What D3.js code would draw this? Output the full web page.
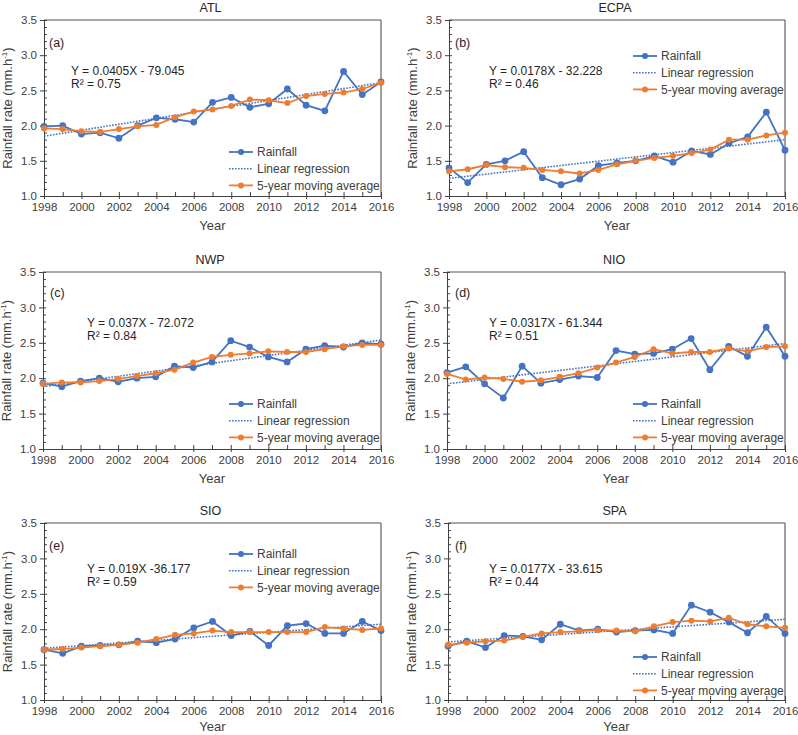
<!DOCTYPE html>
<html><head><meta charset="utf-8">
<script src="https://cdn.jsdelivr.net/npm/d3@7/dist/d3.min.js"></script>
<style>body{margin:0;background:#fff;}svg{display:block;font-family:"Liberation Sans",Arial,sans-serif;}</style>
</head><body><svg id="c" width="798" height="735"></svg>
<script>
const years = d3.range(1998, 2017);
const regions = ["ATL","ECPA","NWP","NIO","SIO","SPA"];
const panelLabels = ["(a)","(b)","(c)","(d)","(e)","(f)"];
const equations = ["Y = 0.0405X - 79.045","Y = 0.0178X - 32.228","Y = 0.037X - 72.072","Y = 0.0317X - 61.344","Y = 0.019X -36.177","Y = 0.0177X - 33.615"];
const r2 = ["R² = 0.75","R² = 0.46","R² = 0.84","R² = 0.51","R² = 0.59","R² = 0.44"];
const yTicks = [1.0,1.5,2.0,2.5,3.0,3.5];
const xTicks = [1998,2000,2002,2004,2006,2008,2010,2012,2014,2016];
const legendNames = ["Rainfall","Linear regression","5-year moving average"];

const rainATL  = [1.99,2.00,1.88,1.90,1.82,2.00,2.11,2.09,2.05,2.33,2.40,2.26,2.31,2.52,2.29,2.21,2.77,2.44,2.62];
const maATL    = [1.96,1.95,1.92,1.91,1.95,1.99,2.01,2.12,2.20,2.23,2.28,2.37,2.36,2.32,2.42,2.45,2.47,2.52,2.61];
const rainECPA = [1.40,1.19,1.45,1.50,1.63,1.26,1.16,1.24,1.43,1.47,1.50,1.57,1.48,1.64,1.59,1.75,1.84,2.19,1.65];
const maECPA   = [1.35,1.38,1.44,1.41,1.40,1.37,1.35,1.32,1.37,1.45,1.50,1.54,1.57,1.61,1.66,1.80,1.80,1.86,1.90];
const rainNWP  = [1.93,1.88,1.96,2.00,1.95,2.00,2.02,2.17,2.15,2.23,2.53,2.44,2.30,2.23,2.41,2.46,2.44,2.50,2.48];
const maNWP    = [1.92,1.94,1.94,1.96,1.99,2.03,2.07,2.12,2.22,2.30,2.33,2.35,2.38,2.37,2.37,2.41,2.45,2.47,2.47];
const rainNIO  = [2.08,2.16,1.92,1.72,2.17,1.93,1.98,2.03,2.01,2.39,2.34,2.35,2.41,2.56,2.12,2.45,2.31,2.72,2.31];
const maNIO    = [2.06,1.98,2.01,1.99,1.95,1.97,2.02,2.07,2.15,2.22,2.30,2.41,2.35,2.37,2.37,2.42,2.38,2.44,2.45];
const rainSIO  = [1.71,1.66,1.76,1.77,1.78,1.83,1.81,1.86,2.02,2.11,1.91,1.97,1.77,2.05,2.08,1.94,1.94,2.11,1.98];
const maSIO    = [1.71,1.72,1.74,1.76,1.78,1.81,1.86,1.92,1.94,1.98,1.96,1.96,1.96,1.96,1.96,2.03,2.01,1.99,2.01];
const rainSPA  = [1.76,1.83,1.74,1.91,1.90,1.85,2.07,1.98,2.00,1.96,1.98,1.99,1.94,2.34,2.24,2.10,1.95,2.18,1.94];
const maSPA    = [1.78,1.81,1.83,1.84,1.89,1.94,1.96,1.97,1.99,1.98,1.97,2.04,2.10,2.12,2.11,2.16,2.07,2.04,2.02];
// regression line end values at 1998 and 2016
const regStart = [1.85,1.25,1.88,1.92,1.73,1.82];
const regEnd   = [2.61,1.80,2.54,2.49,2.07,2.14];

const rain = [rainATL,rainECPA,rainNWP,rainNIO,rainSIO,rainSPA];
const ma = [maATL,maECPA,maNWP,maNIO,maSIO,maSPA];

const BLUE = "#4472C4", ORANGE = "#ED7D31", AX = "#404040", TXT = "#404040";
const svg = d3.select("#c");

const L = [44,449,43,447,44,448], R = [381,785,381,785,381,785];
const T = [20,20,272,272,523,523], B = [196,196,449,449,700,700];
const legX = [229,633,229,633,229,633], legY = [152,56,404,404,554,657];
const labX = [47,453,48,453,47,453], labY = [43,43,293,293,546,546];
const eqX = [71,489,87,489,87,489], eqY = [71,71,323,323,569,569];

regions.forEach((name,i)=>{
  const g = svg.append("g");
  const x = d3.scaleLinear().domain([1998,2016]).range([L[i],R[i]]);
  const y = d3.scaleLinear().domain([1.0,3.5]).range([B[i],T[i]]);
  const cx = (L[i]+R[i])/2;
  g.append("text").attr("x",cx-2).attr("y",T[i]-8).attr("text-anchor","middle").attr("font-size",12.5).attr("fill","#262626").text(name);
  g.append("line").attr("x1",L[i]).attr("x2",R[i]).attr("y1",T[i]).attr("y2",T[i]).attr("stroke","#8c8c8c").attr("stroke-width",1.3);
  g.append("line").attr("x1",R[i]).attr("x2",R[i]).attr("y1",T[i]).attr("y2",B[i]).attr("stroke",AX).attr("stroke-width",1);
  const ya = g.append("g").attr("transform",`translate(${L[i]},0)`)
    .call(d3.axisLeft(y).tickValues(yTicks).tickFormat(d3.format(".1f")).tickSize(4).tickPadding(3));
  ya.select(".domain").attr("stroke",AX);
  ya.selectAll(".tick line").attr("stroke",AX);
  ya.selectAll("text").attr("font-size",11.5).attr("fill",TXT).attr("font-family","Liberation Sans, Arial, sans-serif");
  const ym = g.append("g").attr("transform",`translate(${L[i]},0)`)
    .call(d3.axisRight(y).ticks(25).tickSize(3).tickFormat(""));
  ym.select(".domain").remove();
  ym.selectAll(".tick line").attr("stroke",AX);
  const xa = g.append("g").attr("transform",`translate(0,${B[i]})`)
    .call(d3.axisBottom(x).tickValues(xTicks).tickFormat(d3.format("d")).tickSize(3).tickPadding(4));
  xa.select(".domain").attr("stroke",AX);
  xa.selectAll(".tick line").attr("stroke",AX);
  xa.selectAll("text").attr("font-size",11.5).attr("fill",TXT).attr("font-family","Liberation Sans, Arial, sans-serif");
  const xm = g.append("g").attr("transform",`translate(0,${B[i]})`)
    .call(d3.axisTop(x).tickValues(years).tickSize(4).tickFormat(""));
  xm.select(".domain").remove();
  xm.selectAll(".tick line").attr("stroke",AX);
  g.append("text").attr("x",cx).attr("y",Math.min(B[i]+34,731)).attr("text-anchor","middle").attr("font-size",13).attr("fill",TXT).text("Year");
  const yl = g.append("text").attr("transform",`translate(${L[i]-32},${(T[i]+B[i])/2}) rotate(-90)`)
    .attr("text-anchor","middle").attr("font-size",13).attr("fill",TXT);
  yl.append("tspan").text("Rainfall rate (mm.h");
  yl.append("tspan").attr("font-size",8).attr("dy",-5).text("-1");
  yl.append("tspan").attr("dy",5).text(")");
  g.append("text").attr("x",labX[i]+2).attr("y",labY[i]+4).attr("font-size",12.5).attr("fill","#262626").text(panelLabels[i]);
  g.append("text").attr("x",eqX[i]).attr("y",eqY[i]+4).attr("font-size",12).attr("fill","#262626").text(equations[i]);
  g.append("text").attr("x",eqX[i]).attr("y",eqY[i]+16.5).attr("font-size",12).attr("fill","#262626").text(r2[i]);
  g.append("line").attr("x1",x(1998)).attr("x2",x(2016)).attr("y1",y(regStart[i])).attr("y2",y(regEnd[i]))
    .attr("stroke",BLUE).attr("stroke-width",1.6).attr("stroke-dasharray","1.6,1.4");
  const line = d3.line().x((d,k)=>x(years[k])).y(d=>y(d));
  g.append("path").datum(rain[i]).attr("d",line).attr("fill","none").attr("stroke",BLUE).attr("stroke-width",1.8);
  g.selectAll(".rp").data(rain[i]).enter().append("circle").attr("cx",(d,k)=>x(years[k])).attr("cy",d=>y(d)).attr("r",3.4).attr("fill",BLUE);
  g.append("path").datum(ma[i]).attr("d",line).attr("fill","none").attr("stroke",ORANGE).attr("stroke-width",1.8);
  g.selectAll(".mp").data(ma[i]).enter().append("circle").attr("cx",(d,k)=>x(years[k])).attr("cy",d=>y(d)).attr("r",3).attr("fill",ORANGE);
  const lx = legX[i], ly = legY[i];
  legendNames.forEach((nm,k)=>{
    const yy = ly + k*16.7;
    const ln = g.append("line").attr("x1",lx).attr("x2",lx+24).attr("y1",yy).attr("y2",yy);
    if(k===0){ ln.attr("stroke",BLUE).attr("stroke-width",1.8); g.append("circle").attr("cx",lx+12).attr("cy",yy).attr("r",3).attr("fill",BLUE);}
    else if(k===1){ ln.attr("stroke",BLUE).attr("stroke-width",1.6).attr("stroke-dasharray","1.6,1.4"); }
    else { ln.attr("stroke",ORANGE).attr("stroke-width",1.8); g.append("circle").attr("cx",lx+12).attr("cy",yy).attr("r",3).attr("fill",ORANGE);}
    g.append("text").attr("x",lx+28).attr("y",yy+4.3).attr("font-size",12).attr("fill",TXT).text(nm);
  });
});
</script></body></html>
